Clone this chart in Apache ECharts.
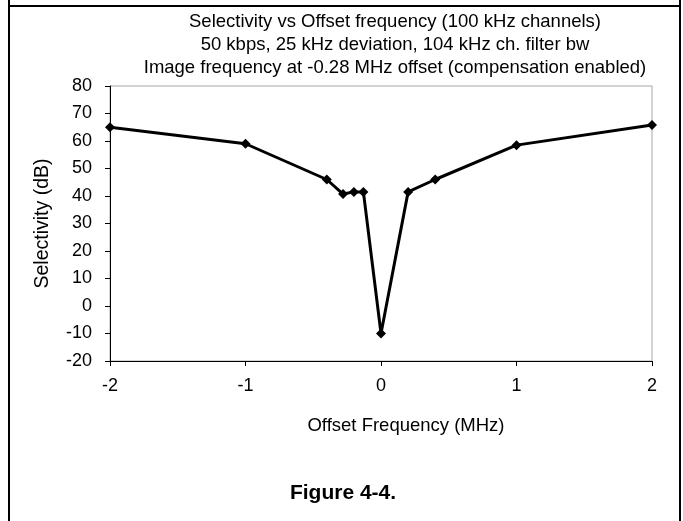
<!DOCTYPE html>
<html>
<head>
<meta charset="utf-8">
<script src="https://cdn.jsdelivr.net/npm/echarts@6/dist/echarts.min.js"></script>
<style>
html,body{margin:0;padding:0;background:#fff;}
#chart{width:683px;height:521px;}
</style>
</head>
<body>
<div id="chart"></div>
<script>
const titleLines = [
  'Selectivity vs Offset frequency (100 kHz channels)',
  '50 kbps, 25 kHz deviation, 104 kHz ch. filter bw',
  'Image frequency at -0.28 MHz offset (compensation enabled)'
];
const xAxisName = 'Offset Frequency (MHz)';
const yAxisName = 'Selectivity (dB)';
const captionText = 'Figure 4-4.';
const offsetMHz = [-2, -1, -0.4, -0.28, -0.2, -0.13, 0, 0.2, 0.4, 1, 2];
const selectivityDb = [65, 59, 46, 40.7, 41.5, 41.5, -10, 41.5, 46, 58.5, 65.8];

const FONT = '"Liberation Sans", Arial, sans-serif';
const chart = echarts.init(document.getElementById('chart'), null, {renderer: 'canvas'});
const option = {
  backgroundColor: '#fff',
  animation: false,
  title: {
    text: titleLines.join('\n'),
    left: 395,
    top: 10,
    padding: 0,
    textAlign: 'center',
    textStyle: {fontFamily: FONT, fontSize: 18.5, fontWeight: 'normal', color: '#000', lineHeight: 23}
  },
  grid: {left: 110, right: 31, top: 86, bottom: 160, show: true, borderColor: '#a6a6a6', borderWidth: 1, backgroundColor: 'transparent'},
  xAxis: {
    type: 'value', min: -2, max: 2, interval: 1,
    name: xAxisName, nameLocation: 'middle', nameGap: 55,
    nameTextStyle: {fontFamily: FONT, fontSize: 18.5, color: '#000', padding: [0, 0, 0, 50]},
    axisLine: {show: true, onZero: false, lineStyle: {color: '#000', width: 1}},
    axisTick: {show: true, inside: false, length: 5, lineStyle: {color: '#000'}},
    axisLabel: {fontFamily: FONT, fontSize: 18, color: '#000', margin: 16},
    splitLine: {show: false}
  },
  yAxis: {
    type: 'value', min: -20, max: 80, interval: 10,
    name: yAxisName, nameLocation: 'middle', nameGap: 57, nameRotate: 90,
    nameTextStyle: {fontFamily: FONT, fontSize: 19.5, color: '#000'},
    axisLine: {show: true, onZero: false, lineStyle: {color: '#000', width: 1}},
    axisTick: {show: true, inside: false, length: 5, lineStyle: {color: '#000'}},
    axisLabel: {fontFamily: FONT, fontSize: 18, color: '#000', margin: 18},
    splitLine: {show: false}
  },
  series: [{
    type: 'line',
    data: offsetMHz.map((x, i) => [x, selectivityDb[i]]),
    symbol: 'diamond', symbolSize: 10,
    lineStyle: {color: '#000', width: 3},
    itemStyle: {color: '#000'}
  }],
  graphic: [
    {type: 'line', shape: {x1: 9, y1: 6, x2: 680, y2: 6}, style: {stroke: '#000', lineWidth: 2}},
    {type: 'line', shape: {x1: 9, y1: 0, x2: 9, y2: 521}, style: {stroke: '#000', lineWidth: 2}},
    {type: 'line', shape: {x1: 680, y1: 0, x2: 680, y2: 521}, style: {stroke: '#000', lineWidth: 2}},
    {type: 'text', x: 343, y: 493, style: {text: captionText, font: 'bold 21px ' + FONT, fill: '#000', textAlign: 'center', textVerticalAlign: 'middle'}}
  ]
};
chart.setOption(option);
</script>
</body>
</html>
